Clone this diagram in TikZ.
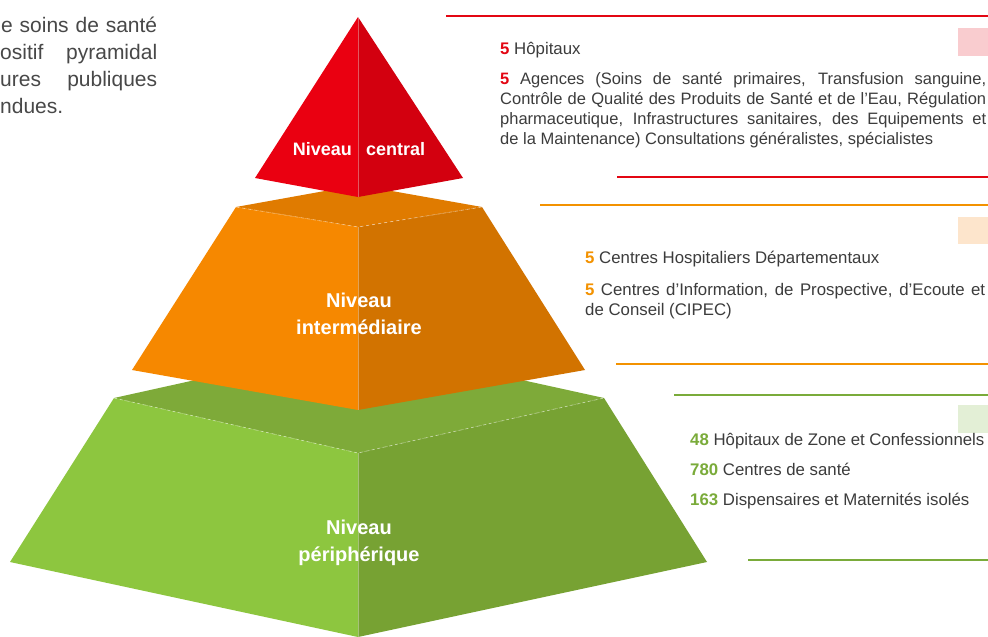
\documentclass[tikz,border=0pt]{standalone}
\usepackage{fontspec}
\setmainfont{Liberation Sans}
\hyphenpenalty=10000
\exhyphenpenalty=10000

% face colours of the three levels
\definecolor{redL}{HTML}{EA0011}
\definecolor{redR}{HTML}{D3000F}
\definecolor{orgL}{HTML}{F68800}
\definecolor{orgR}{HTML}{D27300}
\definecolor{orgT}{HTML}{E07B00}
\definecolor{grnL}{HTML}{8DC63F}
\definecolor{grnR}{HTML}{77A233}
\definecolor{grnT}{HTML}{7EAA39}
% text and accents
\definecolor{txt}{HTML}{3C3C3C}
\definecolor{txtsoft}{HTML}{484848}
\definecolor{numRed}{HTML}{E30613}
\definecolor{numOrg}{HTML}{F39200}
\definecolor{numGrn}{HTML}{7AAB3A}
\definecolor{tintRed}{HTML}{F9CCCF}
\definecolor{tintOrg}{HTML}{FDE5CC}
\definecolor{tintGrn}{HTML}{E3EFD6}

\tikzset{
  levellabel/.style={text=white, inner sep=0pt, font=\bfseries\fontsize{20}{27}\selectfont, align=center},
  toplabel/.style={text=white, inner sep=0pt, font=\bfseries\fontsize{18}{22}\selectfont},
  bodytext/.style={text=txt, inner sep=0pt, font=\fontsize{16.8}{20}\selectfont},
  bodypara/.style={bodytext, align=justify},
  introline/.style={text=txtsoft, inner sep=0pt, anchor=base west, font=\fontsize{21}{27}\selectfont},
  seam/.style={white, opacity=0.35, line width=0.8pt},
  edgeseam/.style={white, opacity=0.45, line width=0.7pt, dash pattern=on 3pt off 3pt},
  rule/.style={line width=2pt}
}

\newcommand{\numR}[1]{\textbf{\color{numRed}#1}}
\newcommand{\numO}[1]{\textbf{\color{numOrg}#1}}
\newcommand{\numG}[1]{\textbf{\color{numGrn}#1}}

\begin{document}
\begin{tikzpicture}[x=1pt, y=-1pt]
\useasboundingbox (0,0) rectangle (988,637);
\clip (0,0) rectangle (988,637);
\fill[white] (0,0) rectangle (988,637);

% corner points of the pyramid
\coordinate (gB) at (358,344);
\coordinate (gL) at (114,398);
\coordinate (gR) at (604,398);
\coordinate (gF) at (358,453);
\coordinate (gBL) at (10,562);
\coordinate (gBR) at (707,562);
\coordinate (gBF) at (358,637);

\coordinate (oB) at (358,185);
\coordinate (oL) at (236,207);
\coordinate (oR) at (482,207);
\coordinate (oF) at (358,227);
\coordinate (oBL) at (132,370);
\coordinate (oBR) at (585,370);
\coordinate (oBF) at (358,410);

\coordinate (rA) at (358,17);
\coordinate (rL) at (255,178);
\coordinate (rR) at (463,178);
\coordinate (rF) at (358,197);

% peripheral level
\fill[grnT] (gB) -- (gR) -- (gF) -- (gL) -- cycle;
\fill[grnL] (gL) -- (gF) -- (gBF) -- (gBL) -- cycle;
\fill[grnR] (gF) -- (gR) -- (gBR) -- (gBF) -- cycle;
\draw[edgeseam] (gL) -- (gF) -- (gR);
\draw[seam] (gF) -- (gBF);

% intermediate level
\fill[orgT] (oB) -- (oR) -- (oF) -- (oL) -- cycle;
\fill[orgL] (oL) -- (oF) -- (oBF) -- (oBL) -- cycle;
\fill[orgR] (oF) -- (oR) -- (oBR) -- (oBF) -- cycle;
\draw[edgeseam] (oL) -- (oF) -- (oR);
\draw[seam] (oF) -- (oBF);

% central level
\fill[redL] (rA) -- (rF) -- (rL) -- cycle;
\fill[redR] (rA) -- (rR) -- (rF) -- cycle;
\draw[seam] (rA) -- (rF);

% level names (base anchor sits on the last line)
\node[toplabel, anchor=base east] (lvlC1) at (352,155) {Niveau};
\node[toplabel, anchor=base west] (lvlC2) at (366,155) {central};
\node[levellabel, anchor=base] (lvlI) at (359,334) {Niveau\\intermédiaire};
\node[levellabel, anchor=base] (lvlP) at (359,561) {Niveau\\périphérique};

% opening paragraph, cut by the left edge
\node[introline] (intro1) at (1,32) {\makebox[156pt][s]{e soins de santé}};
\node[introline] (intro2) at (0,59) {\makebox[157pt][s]{ositif pyramidal}};
\node[introline] (intro3) at (0,86) {\makebox[157pt][s]{ures publiques}};
\node[introline] (intro4) at (0,113) {ndues.};

% central level details
\draw[rule, numRed] (446,16) -- (988,16);
\draw[rule, numRed] (617,177) -- (988,177);
\fill[tintRed] (958,28) rectangle (988,56);
\node[bodytext, anchor=base west] (cHosp) at (500,54) {\numR{5} Hôpitaux};
\node[bodypara, text width=486pt, anchor=base west, font=\fontsize{16.5}{20}\selectfont] (cAgen) at (500,84)
  {\numR{5} Agences (Soins de santé primaires, Transfusion sanguine,\linebreak
   Contrôle de Qualité des Produits de Santé et de l’Eau, Régulation\linebreak
   pharmaceutique, Infrastructures sanitaires, des Equipements et\linebreak
   de la Maintenance) Consultations généralistes, spécialistes};

% intermediate level details
\draw[rule, numOrg] (540,205) -- (988,205);
\draw[rule, numOrg] (616,364) -- (988,364);
\fill[tintOrg] (958,217) rectangle (988,244);
\node[bodytext, anchor=base west] (iCHD) at (585,263) {\numO{5} Centres Hospitaliers Départementaux};
\node[bodypara, text width=400pt, anchor=base west] (iCIPEC) at (585,295)
  {\numO{5} Centres d’Information, de Prospective, d’Ecoute et\linebreak
   de Conseil (CIPEC)};

% peripheral level details
\draw[rule, numGrn] (674,395) -- (988,395);
\draw[rule, numGrn] (748,560) -- (988,560);
\fill[tintGrn] (958,405) rectangle (988,433);
\node[bodytext, anchor=base west] (pHZ) at (690,445) {\numG{48} Hôpitaux de Zone et Confessionnels};
\node[bodytext, anchor=base west] (pCS) at (690,475) {\numG{780} Centres de santé};
\node[bodytext, anchor=base west] (pDM) at (690,505) {\numG{163} Dispensaires et Maternités isolés};
\end{tikzpicture}
\end{document}
